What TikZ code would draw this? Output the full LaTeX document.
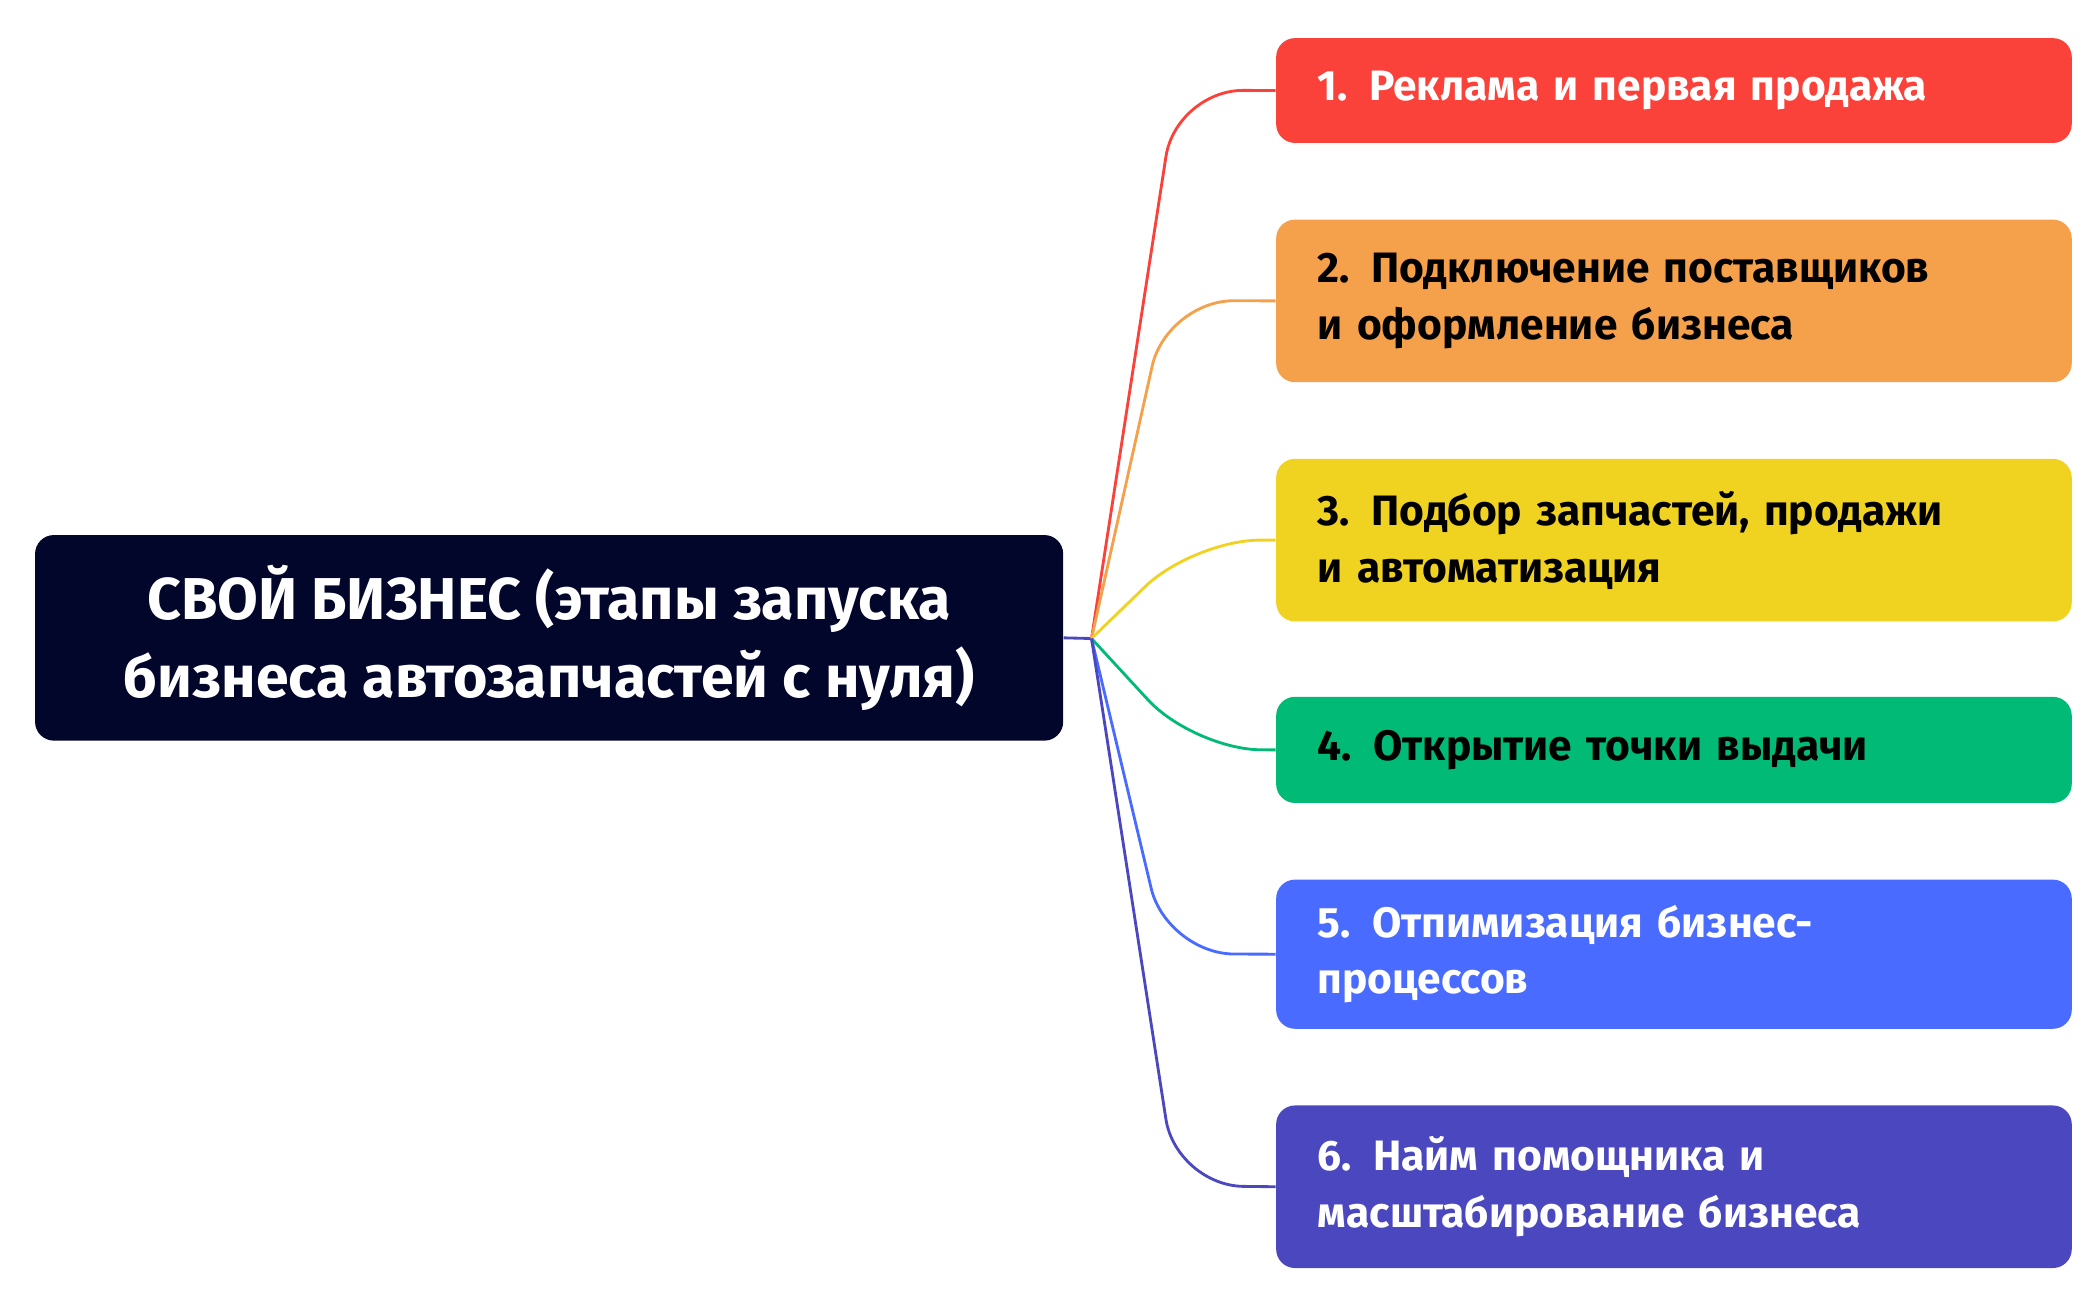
\documentclass[tikz,border=0pt]{standalone}
\usepackage{fontspec}
\setmainfont{Fira Sans}
\usetikzlibrary{positioning}
\definecolor{navy}{HTML}{01062A}
\definecolor{cred}{HTML}{FA423B}
\definecolor{corange}{HTML}{F5A04B}
\definecolor{cyellow}{HTML}{F0D221}
\definecolor{cgreen}{HTML}{00BA75}
\definecolor{cblue}{HTML}{4A6BFF}
\definecolor{cpurple}{HTML}{4B48BF}
\tikzset{
  stage/.style={rectangle, rounded corners=8pt, anchor=north west, minimum width=11.84cm,
    text width=10.6cm, align=left, inner xsep=0.62cm, font=\fontsize{18}{24}\selectfont\bfseries},
  link/.style={line width=1.2pt, rounded corners=1cm}
}
\begin{document}
\begin{tikzpicture}[x=0.02cm,y=-0.02cm]
  \useasboundingbox (0,0) rectangle (1560,967);
  \node[fill=navy, text=white, rounded corners=8pt, minimum width=15.3cm, minimum height=3.06cm,
    align=center, font=\fontsize{25}{33}\selectfont\bfseries] (root) at (408.5,474.5)
    {СВОЙ БИЗНЕС (этапы запуска\\бизнеса автозапчастей с нуля)};
  \coordinate (hub) at (812,475);
  \node[stage, fill=cred, text=white, minimum height=1.56cm] (s1) at (949,28) {1. Реклама и первая продажа};
  \node[stage, fill=corange, minimum height=2.42cm] (s2) at (949,163) {2. Подключение поставщиков\\и оформление бизнеса};
  \node[stage, fill=cyellow, minimum height=2.42cm] (s3) at (949,341) {3. Подбор запчастей, продажи\\и автоматизация};
  \node[stage, fill=cgreen, minimum height=1.58cm] (s4) at (949,518) {4. Открытие точки выдачи};
  \node[stage, fill=cblue, text=white, minimum height=2.22cm] (s5) at (949,654) {5. Отпимизация бизнес-\\процессов};
  \node[stage, fill=cpurple, text=white, minimum height=2.42cm] (s6) at (949,822) {6. Найм помощника и\\масштабирование бизнеса};
  \draw[link, cpurple] (root.east) -- (hub);
  \draw[link, cred] (hub) -- (875,67) -- (s1.west);
  \draw[link, corange] (hub) -- (868,223.5) -- (s2.west);
  \draw[link, cyellow] (hub) -- (888,401.5) -- (s3.west);
  \draw[link, cgreen] (hub) -- (888,557.5) -- (s4.west);
  \draw[link, cblue] (hub) -- (868,709.5) -- (s5.west);
  \draw[link, cpurple] (hub) -- (875,882) -- (s6.west);
\end{tikzpicture}
\end{document}
